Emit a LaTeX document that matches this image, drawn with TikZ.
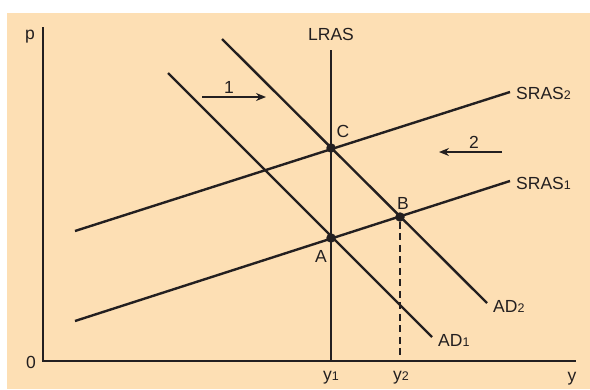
\documentclass[tikz,border=0pt]{standalone}
\usepackage{fontspec}
\setmainfont{Liberation Sans}
\usetikzlibrary{arrows.meta}
\definecolor{bgpeach}{RGB}{253,223,180}
\definecolor{ink}{RGB}{35,31,32}
\newcommand{\sbs}[1]{{\fontsize{12.5}{12.5}\selectfont #1}}
\tikzset{
  curve/.style={draw=ink, line width=2.4pt},
  axis/.style={draw=ink, line width=2.4pt},
  lbl/.style={text=ink, font=\fontsize{17.5}{18}\selectfont, inner sep=0pt},
  dot/.style={circle, fill=ink, minimum size=9.5pt, inner sep=0pt},
  shiftarrow/.style={draw=ink, line width=1.4pt, -{Stealth[length=10pt,width=8pt]}},
  guide/.style={draw=ink, line width=1.3pt, dash pattern=on 7pt off 4.5pt}
}
\begin{document}
\begin{tikzpicture}[x=1pt,y=-1pt]
\useasboundingbox (0,0) rectangle (590,389);
\fill[bgpeach] (7,13) rectangle (590,389);
% axes
\coordinate (o) at (43,361);
\coordinate (ptop) at (43,27);
\coordinate (yend) at (576,361);
\draw[axis] (ptop) -- (o) -- (yend);
\node[lbl] (plbl) at (30,37) {p};
\node[lbl] (zero) at (31,362) {0};
\node[lbl] (ylbl) at (572,379) {y};
% LRAS
\coordinate (lrastop) at (331,50);
\coordinate (lrasbot) at (331,361);
\draw[curve] (lrastop) -- (lrasbot);
\node[lbl] (lras) at (331,34) {LRAS};
% SRAS curves
\coordinate (s1a) at (75,321);
\coordinate (s1b) at (510,181);
\coordinate (s2a) at (75,231);
\coordinate (s2b) at (510,92);
\draw[curve] (s1a) -- (s1b);
\draw[curve] (s2a) -- (s2b);
\node[lbl, anchor=west] (sras2) at (516,93) {SRAS\sbs{2}};
\node[lbl, anchor=west] (sras1) at (516,183) {SRAS\sbs{1}};
% AD curves
\coordinate (d1a) at (168,73);
\coordinate (d1b) at (432,337);
\coordinate (d2a) at (222,39);
\coordinate (d2b) at (487,303);
\draw[curve] (d1a) -- (d1b);
\draw[curve] (d2a) -- (d2b);
\node[lbl, anchor=west] (ad1) at (438,340) {AD\sbs{1}};
\node[lbl, anchor=west] (ad2) at (493,306) {AD\sbs{2}};
% equilibrium points
\node[dot] (A) at (331,238) {};
\node[dot] (B) at (400,217) {};
\node[dot] (C) at (331,148) {};
\node[lbl] (Alb) at (321,256) {A};
\node[lbl] (Blb) at (403,203) {B};
\node[lbl] (Clb) at (343,131) {C};
% guide
\coordinate (y2foot) at (400,361);
\draw[guide] (B) -- (y2foot);
\node[lbl] (y1) at (331,378) {y\sbs{1}};
\node[lbl] (y2) at (401,378) {y\sbs{2}};
% shift arrows
\coordinate (a1s) at (202,97);
\coordinate (a1e) at (266,97);
\draw[shiftarrow] (a1s) -- (a1e);
\node[lbl] (one) at (229,87) {1};
\coordinate (a2s) at (502,152);
\coordinate (a2e) at (439,152);
\draw[shiftarrow] (a2s) -- (a2e);
\node[lbl] (two) at (474,142) {2};
\end{tikzpicture}
\end{document}
